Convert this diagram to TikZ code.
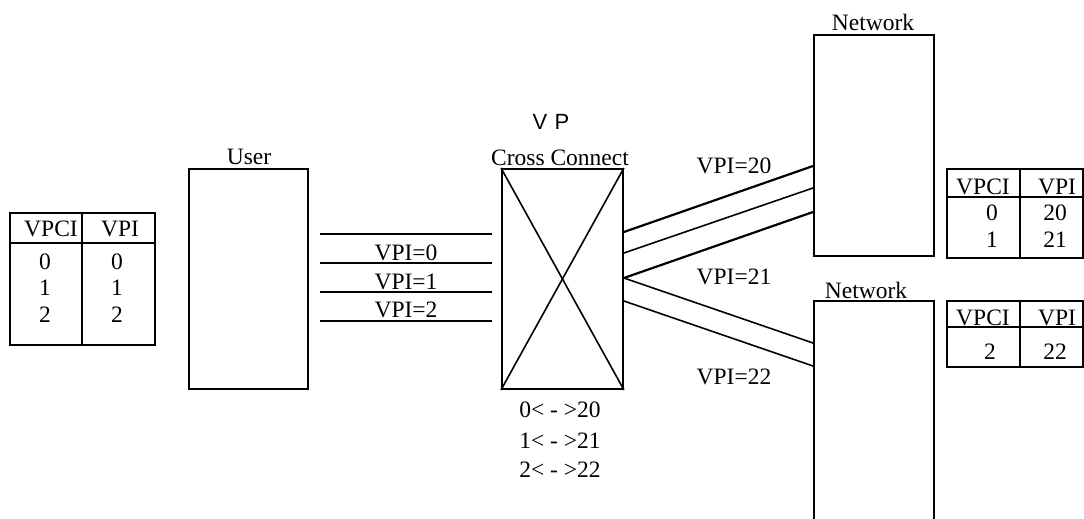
\documentclass[tikz,border=0pt]{standalone}
\usepackage{fontspec}
\setmainfont{Liberation Serif}
\setsansfont{Liberation Sans}
\usetikzlibrary{calc}
\begin{document}
\begin{tikzpicture}[x=1pt,y=-1pt,
  every node/.style={inner sep=0pt,font=\fontsize{23.5}{28}\selectfont},
  box/.style={draw,line width=1.9pt,anchor=north west,minimum width=#1},
  boxline/.style={line width=1.9pt},
  link/.style={line width=1.6pt},
  thicklink/.style={line width=2.2pt},
  lbl/.style={}]
\useasboundingbox (0,0) rectangle (1084,519);

% left table
\node[box=145pt,minimum height=132pt] (ltab) at (9,212) {};
\draw[boxline] ($(ltab.north west)+(0,31)$) coordinate (lh1) -- ($(ltab.north east)+(0,31)$) coordinate (lh2);
\draw[boxline] ($(ltab.north west)+(73,0)$) coordinate (ld1) -- ($(ltab.south west)+(73,0)$) coordinate (ld2);
\node (lvpci) at (51,229) {VPCI};
\node (lvpi) at (120,229) {VPI};
\node (l00) at (45,262) {0};
\node (l01) at (117,262) {0};
\node (l10) at (45,288) {1};
\node (l11) at (117,288) {1};
\node (l20) at (45,315) {2};
\node (l21) at (117,315) {2};

% user
\node[box=119pt,minimum height=220pt] (user) at (188,168) {};
\node (userlbl) at (249,157) {User};

% VPI lines
\foreach \y [count=\i] in {234,263,292,321}{
  \coordinate (ua\i) at (320,\y);
  \coordinate (ub\i) at (492,\y);
  \draw[link] (ua\i) -- (ub\i);
}
\node (vpi0) at (406,253) {VPI=0};
\node (vpi1) at (406,282) {VPI=1};
\node (vpi2) at (406,310) {VPI=2};

% cross connect
\node[box=121pt,minimum height=220pt] (cc) at (501,168) {};
\draw[link] (cc.north west) -- (cc.south east);
\draw[link] (cc.north east) -- (cc.south west);
\node[font=\sffamily\fontsize{22}{26}\selectfont] (vp) at (551,122) {V\,\,P};
\node (cclbl) at (560,158) {Cross Connect};
\node (m0) at (560,410) {0\textless{} - \textgreater20};
\node (m1) at (560,441) {1\textless{} - \textgreater21};
\node (m2) at (560,470) {2\textless{} - \textgreater22};

% networks
\node[box=120pt,minimum height=221pt] (net1) at (813,34) {};
\node (net1lbl) at (873,22) {Network};
\node[box=120pt,minimum height=260pt] (net2) at (813,300) {};
\node (net2lbl) at (866,290) {Network};

% links cc -> networks
\draw[thicklink] ($(cc.north east)+(0,64)$) -- ($(net1.north west)+(0,132)$);
\draw[link] ($(cc.north east)+(0,85)$) -- ($(net1.north west)+(0,154)$);
\draw[thicklink] ($(cc.north east)+(0,110)$) -- ($(net1.north west)+(0,178)$);
\draw[link] ($(cc.north east)+(0,110)$) -- ($(net2.north west)+(0,43)$);
\draw[link] ($(cc.north east)+(0,133)$) -- ($(net2.north west)+(0,66)$);
\node (vpi20) at (734,166) {VPI=20};
\node (vpi21) at (734,277) {VPI=21};
\node (vpi22) at (734,377) {VPI=22};

% right table 1
\node[box=136pt,minimum height=89pt] (rt1) at (946,168) {};
\draw[boxline] ($(rt1.north west)+(0,29)$) -- ($(rt1.north east)+(0,29)$);
\draw[boxline] ($(rt1.north west)+(74,0)$) -- ($(rt1.south west)+(74,0)$);
\node (r1vpci) at (983,187) {VPCI};
\node (r1vpi) at (1057,187) {VPI};
\node (r1a) at (992,213) {0};
\node (r1b) at (1055,213) {20};
\node (r1c) at (992,240) {1};
\node (r1d) at (1055,240) {21};

% right table 2
\node[box=136pt,minimum height=66pt] (rt2) at (946,300) {};
\draw[boxline] ($(rt2.north west)+(0,27)$) -- ($(rt2.north east)+(0,27)$);
\draw[boxline] ($(rt2.north west)+(74,0)$) -- ($(rt2.south west)+(74,0)$);
\node (r2vpci) at (983,318) {VPCI};
\node (r2vpi) at (1057,318) {VPI};
\node (r2a) at (990,352) {2};
\node (r2b) at (1055,352) {22};
\end{tikzpicture}
\end{document}
